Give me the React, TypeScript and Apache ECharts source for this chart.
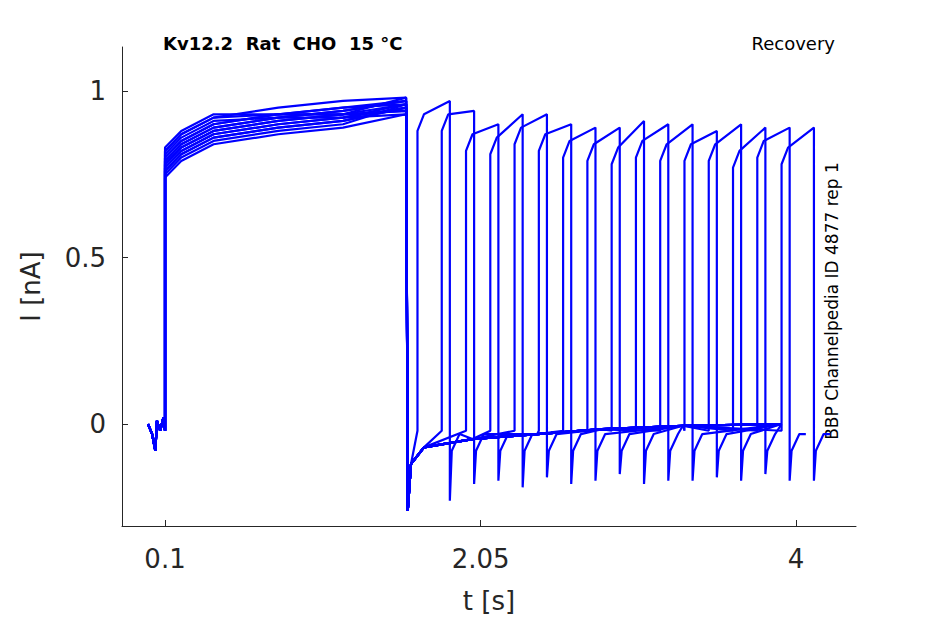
import React, { useEffect, useRef } from 'react';
import * as echarts from 'echarts';

// time ticks and current ticks
const xTicks = [0.1, 2.05, 4];
const yTicks = [0, 0.5, 1];

// first step (per sweep): level right after onset and level just before the drop
const stepOnset = [0.74, 0.76, 0.78, 0.8, 0.82, 0.83, 0.75, 0.77, 0.79, 0.81, 0.8, 0.78, 0.76, 0.82, 0.79, 0.77];
const stepEnd = [0.93, 0.95, 0.96, 0.97, 0.98, 0.94, 0.96, 0.95, 0.97, 0.93, 0.96, 0.98, 0.95, 0.94, 0.97, 0.96];

// recovery pulses (per sweep)
const pulseStart = [1.66, 1.81, 1.96, 2.11, 2.26, 2.41, 2.56, 2.71, 2.86, 3.01, 3.16, 3.31, 3.46, 3.61, 3.76, 3.91];
const pulseEnd = [1.86, 2.01, 2.16, 2.31, 2.46, 2.61, 2.76, 2.91, 3.06, 3.21, 3.36, 3.51, 3.66, 3.81, 3.96, 4.11];
const pulseLow = [0.88, 0.88, 0.82, 0.81, 0.84, 0.82, 0.8, 0.79, 0.78, 0.8, 0.79, 0.79, 0.79, 0.77, 0.8, 0.78];
const pulseHigh = [0.97, 0.94, 0.9, 0.93, 0.93, 0.9, 0.89, 0.89, 0.91, 0.9, 0.9, 0.88, 0.9, 0.89, 0.89, 0.89];
const spikeLow = [-0.23, -0.18, -0.17, -0.19, -0.16, -0.18, -0.17, -0.15, -0.18, -0.17, -0.17, -0.16, -0.17, -0.15, -0.17, -0.17];
const sweepEnd = [3.91, 3.91, 3.91, 3.91, 3.91, 3.91, 3.91, 3.91, 3.91, 3.91, 3.91, 3.91, 3.91, 3.91, 4.06, 4.21];

// shared baseline shape
const preT = [-0.005, 0.02, 0.04, 0.05, 0.07, 0.09, 0.1];
const preI = [0.0, -0.03, -0.08, 0.01, -0.02, 0.02, -0.02];
const stepT = [0.2, 0.4, 0.8, 1.2];
const stepRise = [0.05, 0.1, 0.13, 0.15];
const tailT = [1.6, 1.62, 1.7, 2.0, 2.4, 2.8, 3.3, 3.91];
const tailI = [-0.26, -0.12, -0.07, -0.045, -0.03, -0.015, -0.005, 0.0];

function buildSweep(k: number): number[][] {
  const pts: number[][] = [];
  preT.forEach((t, i) => pts.push([t, preI[i]]));
  pts.push([0.1, stepOnset[k]]);
  stepT.forEach((t, i) => pts.push([t, Math.min(stepOnset[k] + stepRise[i], stepEnd[k] - 0.01)]));
  pts.push([1.59, stepEnd[k]]);
  const s = pulseStart[k], e = pulseEnd[k], end = sweepEnd[k];
  tailT.forEach((t, i) => { if (t < s) pts.push([t, tailI[i]]); });
  pts.push([s, -0.02], [s, pulseLow[k]], [s + 0.04, pulseLow[k] + 0.05], [e, pulseHigh[k]],
    [e, spikeLow[k]], [e + 0.012, -0.08], [e + 0.06, -0.03]);
  tailT.forEach((t, i) => { if (t > e + 0.06 && t <= end) pts.push([t, tailI[i]]); });
  if (pts[pts.length - 1][0] < end) pts.push([end, -0.03]);
  return pts;
}

const App: React.FC = () => {
  const chartRef = useRef<HTMLDivElement | null>(null);

  useEffect(() => {
    if (!chartRef.current) return;
    const chart = echarts.init(chartRef.current, null, { renderer: 'svg' });
    const textColor = '#262626';
    chart.setOption({
      animation: false,
      grid: { left: 114, right: 81, top: 39, bottom: 90, outerBoundsMode: 'none', containLabel: false },
      title: [
        { text: 'Kv12.2  Rat  CHO  15 °C', left: 150, top: 21, textStyle: { fontSize: 18, fontWeight: 'bold', color: '#000', fontFamily: 'DejaVu Sans' } },
        { text: 'Recovery', right: 97, top: 21, textStyle: { fontSize: 18, fontWeight: 'normal', color: '#000', fontFamily: 'DejaVu Sans' } },
      ],
      graphic: [{
        type: 'text', x: 832, y: 293, rotation: Math.PI / 2, style: {
          text: 'BBP Channelpedia ID 4877 rep 1', fontSize: 17, fill: '#000', fontFamily: 'DejaVu Sans',
          align: 'center', verticalAlign: 'bottom',
        },
      }],
      xAxis: {
        type: 'value', min: -0.166, max: 4.37,
        name: 't [s]', nameLocation: 'middle', nameGap: 62,
        nameTextStyle: { fontSize: 26, color: textColor, fontFamily: 'DejaVu Sans' },
        axisLine: { onZero: false, lineStyle: { color: textColor } },
        axisTick: { customValues: xTicks, inside: true, length: 6, lineStyle: { color: textColor } },
        axisLabel: { customValues: xTicks, fontSize: 26, color: textColor, margin: 20, fontFamily: 'DejaVu Sans', formatter: (v: number) => String(v) },
        splitLine: { show: false },
      },
      yAxis: {
        type: 'value', min: -0.306, max: 1.132,
        name: 'I [nA]', nameLocation: 'middle', nameGap: 78,
        nameTextStyle: { fontSize: 26, color: textColor, fontFamily: 'DejaVu Sans' },
        axisLine: { show: true, onZero: false, lineStyle: { color: textColor } },
        axisTick: { show: true, customValues: yTicks, inside: true, length: 6, lineStyle: { color: textColor } },
        axisLabel: { customValues: yTicks, fontSize: 26, color: textColor, margin: 16, fontFamily: 'DejaVu Sans', formatter: (v: number) => String(v) },
        splitLine: { show: false },
      },
      series: stepOnset.map((_, k) => ({
        type: 'line', data: buildSweep(k), showSymbol: false,
        lineStyle: { color: '#0000ff', width: 2.2 },
      })),
    });
    return () => chart.dispose();
  }, []);

  return <div ref={chartRef} style={{ width: 929, height: 608 }} />;
};

export default App;
